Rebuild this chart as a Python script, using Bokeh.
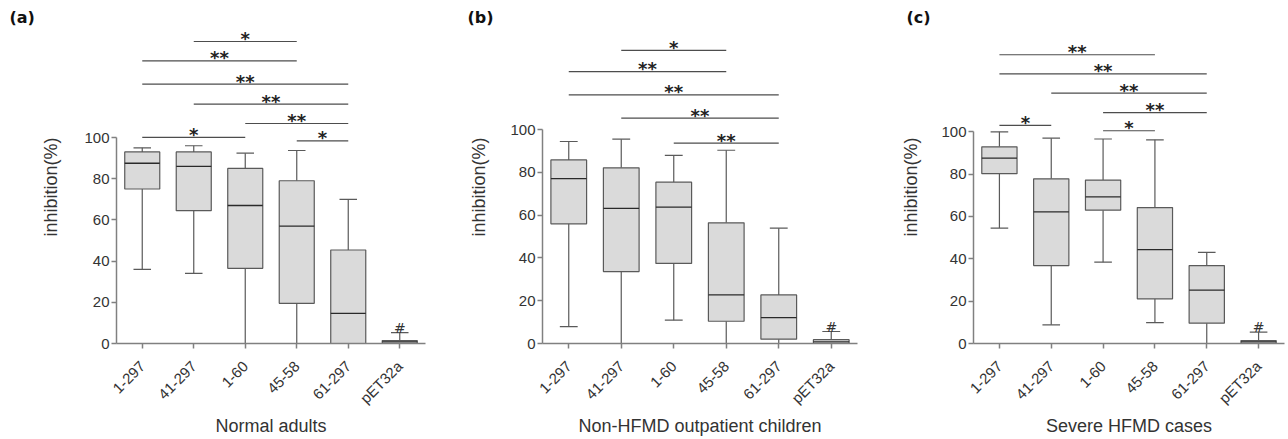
import math
from bokeh.plotting import figure
from bokeh.models import Range1d, FixedTicker, ColumnDataSource, Title
from bokeh.layouts import row
from bokeh.embed import file_html
from bokeh.resources import INLINE
from bokeh.core.properties import value

categories = ["1-297", "41-297", "1-60", "45-58", "61-297", "pET32a"]
marks = ["", "", "", "", "", "#"]

# (a) Normal adults
a_min = [36, 34, 0, 0, 0, 0]
a_q1 = [75, 64.5, 36.5, 19.5, 0, 0]
a_med = [87.5, 86, 67, 57, 14.6, 0.8]
a_q3 = [93, 93, 85, 79, 45.4, 1.4]
a_max = [95, 96, 92.4, 93.7, 70, 5.3]
a_cmp_from = [1, 0, 0, 1, 2, 3, 0]
a_cmp_to = [3, 3, 4, 4, 4, 4, 2]
a_cmp_label = ["*", "**", "**", "**", "**", "*", "*"]
a_cmp_height = [146.6, 137.2, 125.9, 116.2, 106.8, 98.4, 100.1]

# (b) Non-HFMD outpatient children
b_min = [7.9, 0, 10.9, 0, 0, 0]
b_q1 = [55.9, 33.6, 37.4, 10.4, 2.0, 0]
b_med = [77, 63.1, 63.7, 22.7, 12.1, 0.8]
b_q3 = [85.8, 82.1, 75.4, 56.4, 22.7, 1.8]
b_max = [94.4, 95.5, 87.9, 90.3, 53.9, 5.6]
b_cmp_from = [1, 0, 0, 1, 2]
b_cmp_to = [3, 3, 4, 4, 4]
b_cmp_label = ["*", "**", "**", "**", "**"]
b_cmp_height = [137.0, 127.0, 116.2, 105.3, 93.6]

# (c) Severe HFMD cases
c_min = [54.5, 8.8, 38.4, 9.9, 0, 0]
c_q1 = [80.2, 36.8, 63.0, 21.1, 9.6, 0]
c_med = [87.6, 62.2, 69.3, 44.3, 25.2, 0.8]
c_q3 = [92.9, 77.8, 77.2, 64.2, 36.8, 1.4]
c_max = [100, 97, 96.6, 96.2, 43, 5.4]
c_cmp_from = [0, 0, 1, 2, 2, 0]
c_cmp_to = [3, 4, 4, 4, 3, 1]
c_cmp_label = ["**", "**", "**", "**", "*", "*"]
c_cmp_height = [136.4, 127.4, 118.3, 109.1, 100.5, 103.0]

TICK_FONT = "Liberation Sans"
TEXT_COLOR = "#333333"
HEIGHT = 439
TOP = 30
BOTTOM = 96


def make_panel(tag, xlabel, lo, q1, med, q3, hi, cf, ct, cl, ch,
               width, left, right, ppu, tag_dx, ylab_shift, ylab_standoff):
    frame_h = HEIGHT - TOP - BOTTOM
    y_end = frame_h / ppu

    p = figure(width=width, height=HEIGHT,
               x_range=Range1d(-0.5, 5.5), y_range=Range1d(0, y_end),
               output_backend="svg", toolbar_location=None,
               min_border_left=left, min_border_right=right,
               min_border_top=TOP, min_border_bottom=BOTTOM)
    p.outline_line_color = None
    p.xgrid.visible = False
    p.ygrid.visible = False
    p.background_fill_color = "white"

    # panel tag
    p.title.text = tag
    p.title.align = "left"
    p.title.offset = tag_dx - 4
    p.title.standoff = 0
    p.title.padding = 4
    p.title.text_font = "DejaVu Sans"
    p.title.text_font_style = "bold"
    p.title.text_font_size = "16px"
    p.title.text_color = "#111111"

    xs = list(range(len(categories)))
    src = ColumnDataSource(dict(
        x=xs, lo=lo, q1=q1, med=med, q3=q3, hi=hi,
        bl=[i - 0.34 for i in xs], br=[i + 0.34 for i in xs],
        cl=[i - 0.17 for i in xs], cr=[i + 0.17 for i in xs],
    ))
    wcol = "#5a5a5a"
    p.segment(x0="x", y0="lo", x1="x", y1="q1", source=src, line_color=wcol, line_width=1.2)
    p.segment(x0="x", y0="q3", x1="x", y1="hi", source=src, line_color=wcol, line_width=1.2)
    p.segment(x0="cl", y0="hi", x1="cr", y1="hi", source=src, line_color=wcol, line_width=1.2)
    p.segment(x0="cl", y0="lo", x1="cr", y1="lo", source=src, line_color=wcol, line_width=1.2)
    p.vbar(x="x", width=0.68, bottom="q1", top="q3", source=src,
           fill_color="#dadada", line_color="#5a5a5a", line_width=1.2)
    p.segment(x0="bl", y0="med", x1="br", y1="med", source=src, line_color="#2a2a2a", line_width=1.3)

    # '#' marks
    msrc = ColumnDataSource(dict(x=xs, y=hi, t=marks))
    p.text(x="x", y="y", text="t", source=msrc, text_align="center",
           text_baseline="alphabetic", y_offset=-5,
           text_font=value("DejaVu Sans"), text_font_size="14px", text_color=TEXT_COLOR)

    # significance comparisons
    csrc = ColumnDataSource(dict(x0=cf, x1=ct, h=ch, lab=cl,
                                 xm=[(a + b) / 2 for a, b in zip(cf, ct)]))
    p.segment(x0="x0", y0="h", x1="x1", y1="h", source=csrc, line_color="#4d4d4d", line_width=1.2)
    p.text(x="xm", y="h", text="lab", source=csrc, text_align="center",
           text_baseline="alphabetic", y_offset=-3,
           text_font=value("DejaVu Sans"), text_font_style="bold",
           text_font_size="18px", text_color="#222222")

    # axes
    p.yaxis.ticker = FixedTicker(ticks=[0, 20, 40, 60, 80, 100])
    p.yaxis.bounds = (0, 100)
    p.xaxis.ticker = FixedTicker(ticks=xs)
    p.xaxis.major_label_overrides = {i: c for i, c in enumerate(categories)}
    p.xaxis.major_label_orientation = math.pi / 4
    for ax in (p.xaxis, p.yaxis):
        ax.axis_line_color = "#808080"
        ax.axis_line_width = 1.5
        ax.major_tick_line_color = "#808080"
        ax.major_tick_line_width = 1.5
        ax.major_tick_out = 5
        ax.major_tick_in = 0
        ax.minor_tick_line_color = None
        ax.major_label_text_font = TICK_FONT
        ax.major_label_text_font_size = "15px"
        ax.major_label_text_color = TEXT_COLOR
        ax.major_label_text_line_height = 1.0
    p.yaxis.major_label_standoff = 2
    p.xaxis.major_label_standoff = 15
    p.xaxis.axis_label = xlabel
    p.xaxis.axis_label_text_font = TICK_FONT
    p.xaxis.axis_label_text_font_size = "18px"
    p.xaxis.axis_label_text_font_style = "normal"
    p.xaxis.axis_label_text_color = TEXT_COLOR
    p.xaxis.axis_label_text_line_height = 0.8
    p.xaxis.axis_label_standoff = 0

    p.add_layout(Title(text="inhibition(%)", align="center", offset=ylab_shift,
                       standoff=ylab_standoff, text_font=TICK_FONT, text_font_style="normal",
                       text_font_size="18px", text_color=TEXT_COLOR), "left")
    return p


pa = make_panel("(a)", "Normal adults", a_min, a_q1, a_med, a_q3, a_max,
                a_cmp_from, a_cmp_to, a_cmp_label, a_cmp_height,
                448, 116, 23, 2.06, -107, -45, 42)
pb = make_panel("(b)", "Non-HFMD outpatient children", b_min, b_q1, b_med, b_q3, b_max,
                b_cmp_from, b_cmp_to, b_cmp_label, b_cmp_height,
                432, 90, 23, 2.14, -75, -45, 37)
pc = make_panel("(c)", "Severe HFMD cases", c_min, c_q1, c_med, c_q3, c_max,
                c_cmp_from, c_cmp_to, c_cmp_label, c_cmp_height,
                408, 89, 4, 2.117, -67, -49, 36)

layout = row(pa, pb, pc)
open("out.html", "w").write(file_html(layout, INLINE))
